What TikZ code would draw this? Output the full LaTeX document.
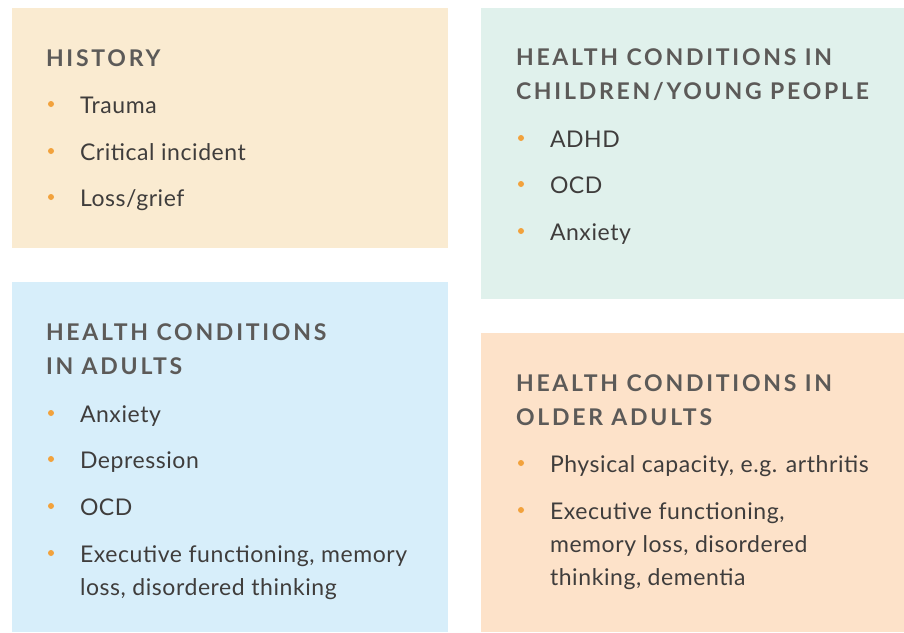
\documentclass[tikz,border=0pt]{standalone}
\usepackage{fontspec}
\setmainfont{Lato}[LetterSpace=2.5]
\newfontfamily\headfont[LetterSpace=12]{Lato}
\usetikzlibrary{positioning}
\definecolor{historyfill}{HTML}{FAEBD1}
\definecolor{childfill}{HTML}{E0F1EC}
\definecolor{adultfill}{HTML}{D7EEFA}
\definecolor{olderfill}{HTML}{FDE2C9}
\definecolor{dotorange}{HTML}{F2A23C}
\definecolor{headgrey}{HTML}{5C5A58}
\definecolor{bodygrey}{HTML}{3F3D3C}
\tikzset{
  every node/.style={inner sep=0pt, outer sep=0pt},
  panel/.style={anchor=north west, draw=none},
  heading/.style={anchor=base west, text=headgrey, font=\headfont\bfseries\fontsize{23}{34}\selectfont},
  entry/.style={anchor=base west, text=bodygrey, font=\fontsize{23}{33}\selectfont},
  dot/.style={circle, fill=dotorange, minimum size=6pt}
}

\begin{document}
\begin{tikzpicture}[x=1pt, y=-1pt, node distance=26pt]
  \useasboundingbox (0,0) rectangle (904,632);
  % Panels
  \node (history) [panel, fill=historyfill, minimum width=436pt, minimum height=240pt] at (12,8) {};
  \node (children) [panel, fill=childfill, minimum width=423pt, minimum height=291pt] at (481,8) {};
  \node (adults) [panel, fill=adultfill, minimum width=436pt, minimum height=350pt] at (12,282) {};
  \node (older) [panel, fill=olderfill, minimum width=423pt, minimum height=299pt] at (481,333) {};

  % History
  \node (historyhead) [heading] at (46,66) {HISTORY};
  \node (trauma) [entry] at (80,113) {Trauma};
  \node (incident) [entry] at (80,160) {Critical incident};
  \node (grief) [entry] at (80,206) {Loss/grief};
  \node (traumadot) [dot, left=of trauma.base west, yshift=9pt] {};
  \node (incidentdot) [dot, left=of incident.base west, yshift=9pt] {};
  \node (griefdot) [dot, left=of grief.base west, yshift=9pt] {};

  % Children / young people
  \node (childrenhead) [heading] at (516,65) {
    \begin{tabular}[t]{@{}l@{}}
      HEALTH CONDITIONS IN \\
      CHILDREN/YOUNG PEOPLE
    \end{tabular}
  };
  \node (adhd) [entry] at (550,147) {ADHD};
  \node (childocd) [entry] at (550,193) {OCD};
  \node (childanxiety) [entry] at (550,240) {Anxiety};
  \node (adhddot) [dot, left=of adhd.base west, yshift=9pt] {};
  \node (childocddot) [dot, left=of childocd.base west, yshift=9pt] {};
  \node (childanxietydot) [dot, left=of childanxiety.base west, yshift=9pt] {};

  % Adults
  \node (adultshead) [heading] at (46,340) {
    \begin{tabular}[t]{@{}l@{}}
      HEALTH CONDITIONS \\
      IN ADULTS
    \end{tabular}
  };
  \node (adultanxiety) [entry] at (80,422) {Anxiety};
  \node (depression) [entry] at (80,468) {Depression};
  \node (adultocd) [entry] at (80,515) {OCD};
  \node (adultexec) [entry] at (80,562) {
    \begin{tabular}[t]{@{}l@{}}
      Executive functioning, memory \\
      loss, disordered thinking
    \end{tabular}
  };
  \node (adultanxietydot) [dot, left=of adultanxiety.base west, yshift=9pt] {};
  \node (depressiondot) [dot, left=of depression.base west, yshift=9pt] {};
  \node (adultocddot) [dot, left=of adultocd.base west, yshift=9pt] {};
  \node (adultexecdot) [dot, left=of adultexec.base west, yshift=9pt] {};

  % Older adults
  \node (olderhead) [heading] at (516,391) {
    \begin{tabular}[t]{@{}l@{}}
      HEALTH CONDITIONS IN \\
      OLDER ADULTS
    \end{tabular}
  };
  \node (physical) [entry] at (550,472) {Physical capacity, e.g. arthritis};
  \node (olderexec) [entry] at (550,519) {
    \begin{tabular}[t]{@{}l@{}}
      Executive functioning, \\
      memory loss, disordered \\
      thinking, dementia
    \end{tabular}
  };
  \node (physicaldot) [dot, left=of physical.base west, yshift=9pt] {};
  \node (olderexecdot) [dot, left=of olderexec.base west, yshift=9pt] {};
\end{tikzpicture}
\end{document}
